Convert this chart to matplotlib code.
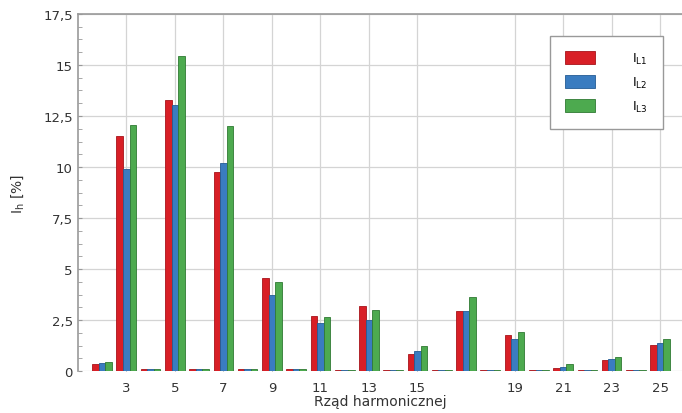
import matplotlib
matplotlib.use("Agg")
import matplotlib.pyplot as plt
import numpy as np

# rzędy harmonicznych (od 2 do 25)
harmonics = list(range(2, 26))

# zawartość harmonicznych prądu w fazach L1, L2, L3 [%]
i_l1 = [0.35, 11.5, 0.1, 13.3, 0.1, 9.75, 0.1, 4.55, 0.1, 2.7, 0.08, 3.2,
        0.08, 0.84, 0.08, 2.93, 0.08, 1.79, 0.08, 0.18, 0.06, 0.56, 0.06, 1.27]
i_l2 = [0.4, 9.9, 0.1, 13.05, 0.1, 10.2, 0.1, 3.75, 0.1, 2.35, 0.08, 2.53,
        0.08, 0.99, 0.08, 2.93, 0.08, 1.58, 0.08, 0.21, 0.06, 0.58, 0.06, 1.38]
i_l3 = [0.45, 12.05, 0.1, 15.45, 0.1, 12.0, 0.1, 4.35, 0.1, 2.63, 0.08, 3.0,
        0.08, 1.24, 0.08, 3.64, 0.08, 1.94, 0.08, 0.35, 0.06, 0.71, 0.06, 1.57]

tick_orders = [3, 5, 7, 9, 11, 13, 15, 19, 21, 23, 25]
y_ticks = [0, 2.5, 5, 7.5, 10, 12.5, 15, 17.5]
y_labels = ["0", "2,5", "5", "7,5", "10", "12,5", "15", "17,5"]

fig = plt.figure(figsize=(6.82, 4.14), dpi=100)
ax = fig.add_axes([0.114, 0.101, 0.886, 0.863])

x = np.array(harmonics)
w = 0.27
series = [
    (i_l1, "#d81f26", "#a8141a", r"$\mathregular{I_{L1}}$"),
    (i_l2, "#3a7cc0", "#245c94", r"$\mathregular{I_{L2}}$"),
    (i_l3, "#4daa4f", "#2f7a33", r"$\mathregular{I_{L3}}$"),
]
for k, (vals, fc, ec, lab) in enumerate(series):
    ax.bar(x + (k - 1) * w, vals, width=w, color=fc, edgecolor=ec,
           linewidth=0.6, label=lab, zorder=3)

ax.set_xlim(1.0, 25.9)
ax.set_ylim(0, 17.5)
ax.set_xticks(tick_orders)
ax.set_xticklabels([str(t) for t in tick_orders], fontsize=9.5, color="#333333")
ax.set_yticks(y_ticks)
ax.set_yticklabels(y_labels, fontsize=9.5, color="#333333")
ax.set_yticks(np.arange(0, 17.6, 0.625), minor=True)
ax.tick_params(axis="both", which="both", direction="in", length=3,
               color="#999999")
ax.tick_params(axis="x", pad=7)

ax.grid(True, which="major", color="#d4d4d4", linewidth=0.9, zorder=0)
for side in ["left", "top"]:
    ax.spines[side].set_color("#999999")
    ax.spines[side].set_linewidth(1.2)
ax.spines["right"].set_visible(False)
ax.spines["bottom"].set_visible(False)

ax.set_xlabel("Rząd harmonicznej", fontsize=10, color="#333333", labelpad=0)
ax.set_ylabel(r"$\mathregular{I_h}$ [%]", fontsize=10, color="#333333")
ax.yaxis.set_label_coords(-0.085, 0.5)

leg = ax.legend(loc="upper right", bbox_to_anchor=(0.968, 0.938),
                fontsize=9, handlelength=2.4, handleheight=1.2,
                borderpad=1.2, labelspacing=0.7, handletextpad=3.0,
                borderaxespad=0.0,
                fancybox=False, framealpha=1, edgecolor="#999999")
leg.get_frame().set_linewidth(1.0)

fig.savefig("out.png", dpi=100)
